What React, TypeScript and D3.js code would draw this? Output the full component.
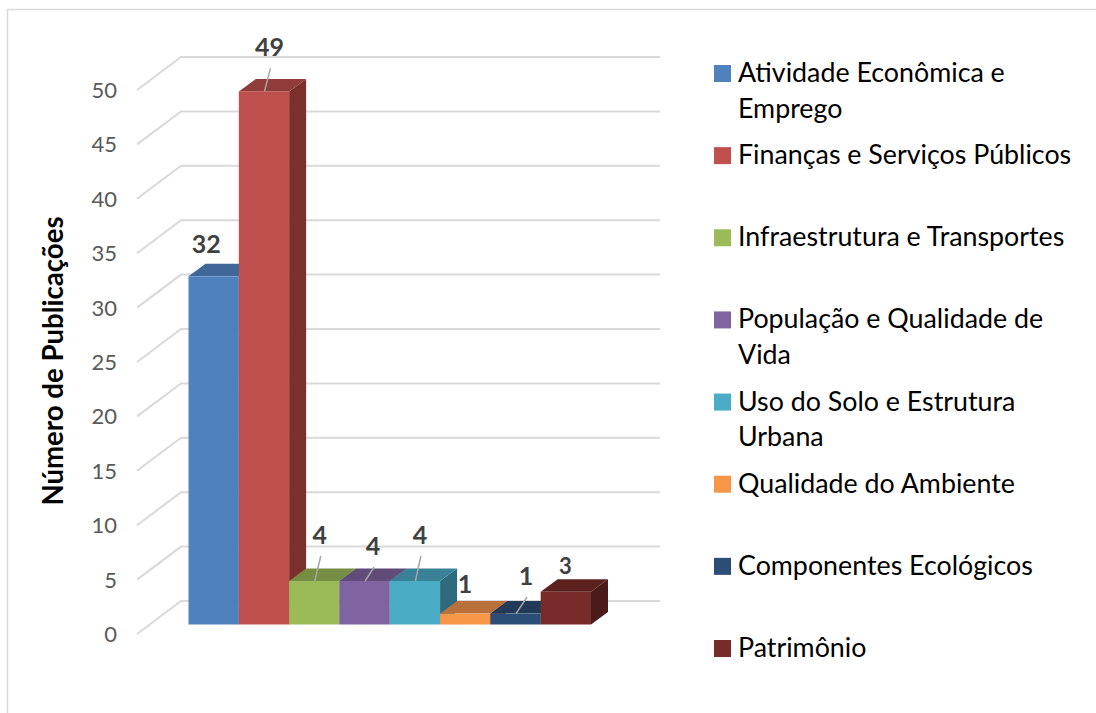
import React, { useEffect, useRef } from 'react'
import * as d3 from 'd3'

const categories = [
  'Atividade Econômica e|Emprego',
  'Finanças e Serviços Públicos',
  'Infraestrutura e Transportes',
  'População e Qualidade de|Vida',
  'Uso do Solo e Estrutura|Urbana',
  'Qualidade do Ambiente',
  'Componentes Ecológicos',
  'Patrimônio',
]
const values = [32, 49, 4, 4, 4, 1, 1, 3]
const yTicks = [0, 5, 10, 15, 20, 25, 30, 35, 40, 45, 50]

const frontColors = ['#4f81bd', '#c0504d', '#9bbb59', '#8064a2', '#4bacc6', '#f79646', '#2c4d75', '#772c2a']
const topColors = ['#3f6797', '#8f3c3a', '#768e44', '#604b79', '#388197', '#b9703a', '#203a58', '#5a211f']
const sideColors = ['#335379', '#7b302e', '#5f7336', '#4f3e64', '#2f6b7d', '#96592c', '#1a2f47', '#4a1b1a']

// label placement relative to the bar's top: [label dx, baseline dy, font size, leader?]
const labelLayout: [number, number, number, boolean][] = [
  [-16, -23, 25, false],
  [-3, -35, 25, true],
  [-3, -37, 25, true],
  [0, -26, 25, true],
  [-3.5, -37, 25, true],
  [-8.6, -21, 25, false],
  [2, -28.6, 25, true],
  [-9, -18, 22, false],
]

const font = 'Lato, Carlito, Calibri, sans-serif'

export default function App() {
  const ref = useRef<SVGSVGElement | null>(null)

  useEffect(() => {
    const svg = d3.select(ref.current)
    svg.selectAll('*').remove()

    const wallDx = 44
    const wallDy = 33
    const barDx = 17
    const barDy = 12.5

    // heights above the floor, shared by walls and bars
    const h = d3.scaleLinear().domain([0, 50]).range([0, 544])
    const wallFront = 634
    const barBase = 624.5

    const x = d3.scaleBand<number>()
      .domain(d3.range(values.length))
      .range([188.5, 591])
      .padding(0)

    // frame
    svg.append('path')
      .attr('d', 'M7.5,713V9.5H1096')
      .attr('fill', 'none')
      .attr('stroke', '#d9d9d9')
      .attr('stroke-width', 1.5)

    // gridlines
    const grid = svg.append('g')
      .attr('fill', 'none')
      .attr('stroke', '#d9d9d9')
      .attr('stroke-width', 2)
    yTicks.forEach(t => {
      const y0 = wallFront - h(t)
      const line = d3.line()
      grid.append('path').attr('d', line([
        [137, y0],
        [137 + wallDx, y0 - wallDy],
        [660, y0 - wallDy],
      ]))
    })

    // tick labels
    svg.append('g')
      .selectAll('text')
      .data(yTicks)
      .enter()
      .append('text')
      .attr('x', 117)
      .attr('y', d => wallFront - h(d) + 8)
      .attr('text-anchor', 'end')
      .attr('font-family', font)
      .attr('font-size', 22)
      .attr('fill', '#595959')
      .text(d => d)

    // axis title
    svg.append('text')
      .attr('transform', 'translate(63,361) rotate(-90)')
      .attr('text-anchor', 'middle')
      .attr('font-family', font)
      .attr('font-size', 27.6)
      .attr('font-weight', 700)
      .attr('fill', '#000')
      .text('Número de Publicações')

    // bars, drawn left to right with their side then top then front
    const bars = svg.append('g')
    values.forEach((v, i) => {
      const x0 = x(i) as number
      const x1 = x0 + x.bandwidth()
      const top = barBase - h(v)
      const line = d3.line()
      bars.append('path')
        .attr('fill', sideColors[i])
        .attr('d', line([
          [x1, barBase], [x1 + barDx, barBase - barDy],
          [x1 + barDx, top - barDy], [x1, top],
        ]) + 'Z')
      bars.append('path')
        .attr('fill', topColors[i])
        .attr('d', line([
          [x0, top], [x0 + barDx, top - barDy],
          [x1 + barDx, top - barDy], [x1, top],
        ]) + 'Z')
      bars.append('rect')
        .attr('x', x0)
        .attr('y', top)
        .attr('width', x.bandwidth())
        .attr('height', barBase - top)
        .attr('fill', frontColors[i])
    })

    // value labels and leaders
    const labels = svg.append('g')
    values.forEach((v, i) => {
      const [dx, dy, size, leader] = labelLayout[i]
      const cx = (x(i) as number) + x.bandwidth() / 2 + barDx / 2
      const top = barBase - h(v)
      labels.append('text')
        .attr('x', cx + dx)
        .attr('y', top + dy)
        .attr('text-anchor', 'middle')
        .attr('font-family', font)
        .attr('font-size', size)
        .attr('font-weight', 700)
        .attr('fill', '#404040')
        .text(v)
      if (leader) {
        labels.append('line')
          .attr('x1', cx + dx + 1)
          .attr('y1', top + dy + 12)
          .attr('x2', cx - 8)
          .attr('y2', top)
          .attr('stroke', '#a6a6a6')
          .attr('stroke-width', 1.5)
      }
    })

    // legend
    const legendY = d3.scalePoint<number>()
      .domain(d3.range(categories.length))
      .range([73, 648])
    const rows = svg.append('g')
      .selectAll('g')
      .data(categories)
      .enter()
      .append('g')
      .attr('transform', (_, i) => `translate(0,${legendY(i)})`)
    rows.append('rect')
      .attr('x', 714)
      .attr('y', -8)
      .attr('width', 17)
      .attr('height', 17)
      .attr('fill', (_, i) => frontColors[i])
    rows.each(function (d) {
      d.split('|').forEach((part, j) => {
        d3.select(this).append('text')
          .attr('x', 738)
          .attr('y', 9 + j * 35.5)
          .attr('font-family', font)
          .attr('font-size', 26.8)
          .attr('fill', '#000')
          .text(part)
      })
    })
  }, [])

  return (
    <svg
      ref={ref}
      width={1096}
      height={713}
      style={{ position: 'absolute', left: 0, top: 0, background: '#fff' }}
    />
  )
}
